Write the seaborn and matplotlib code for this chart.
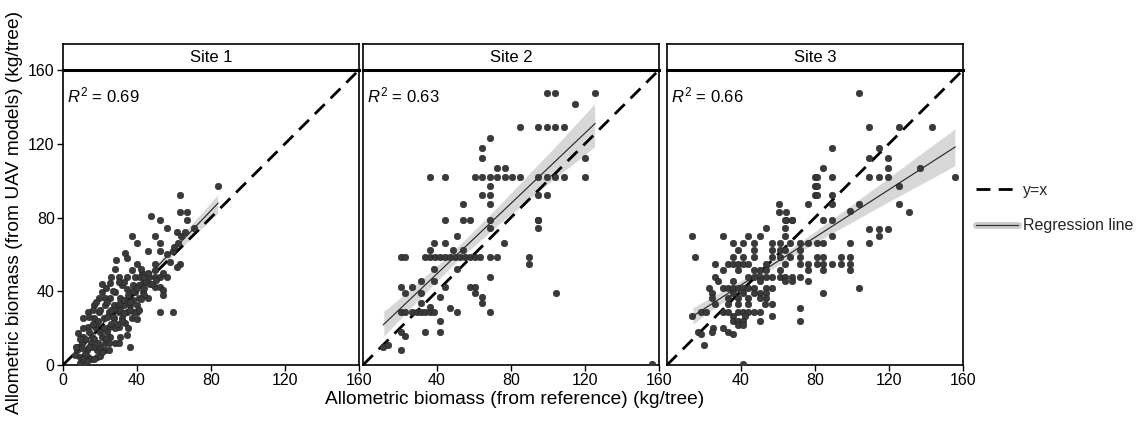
import numpy as np
import pandas as pd
import matplotlib
matplotlib.use("Agg")
import matplotlib.pyplot as plt
import seaborn as sns
from matplotlib.lines import Line2D
from matplotlib.legend_handler import HandlerTuple

sns.set_theme(style="ticks")
plt.rcParams["font.family"] = ["Liberation Sans", "DejaVu Sans"]
plt.rcParams["mathtext.fontset"] = "custom"
plt.rcParams["mathtext.rm"] = "Liberation Sans"
plt.rcParams["mathtext.it"] = "Liberation Sans:italic"

# ---------------- data ----------------
sites = ["Site 1", "Site 2", "Site 3"]
r2_labels = ["0.69", "0.63", "0.66"]
ticks_first = [0, 40, 80, 120, 160]
ticks_other = [40, 80, 120, 160]
legend_labels = ["y=x", "Regression line"]
x_title = "Allometric biomass (from reference) (kg/tree)"
y_title = "Allometric biomass (from UAV models) (kg/tree)"

site1_x = [83.9, 63.2, 63.2, 67.2, 47.7, 52.7, 67.2, 56, 70.8, 61.8, 37.3, 49.5, 40, 52.7, 46, 52.7, 59.4,
           33.3, 34.6, 28.6, 40, 49.5, 63.2, 61.8, 37.3, 49.5, 42.8, 30.1, 34.6, 39.1, 41.8, 46.4, 49.5, 52.3,
           56, 25.5, 43.1, 31.9, 37.7, 40.9, 49.5, 52.7, 54, 21, 28.3, 34.6, 38.8, 43.1, 54, 19.2, 22.8, 25.5,
           30.9, 40.9, 46, 17, 22.8, 27.3, 32.8, 36.4, 40, 52.7, 59.4, 40, 13.7, 19.2, 24.6, 30.1, 34.6, 38.2,
           11, 16.5, 21.9, 27.3, 31.9, 37.3, 40, 33.7, 8.3, 13.7, 17.4, 24.6, 30.1, 34.6, 11, 15.6, 21, 25.5,
           31, 27.9, 36.4, 22.8, 7.4, 12.9, 18.3, 22.8, 9.2, 13.7, 18.3, 9.2, 12, 6.5,
           15, 20, 26, 29, 33, 24, 18, 14, 10, 27, 35, 44, 36, 30, 12, 16, 20, 23, 28, 32, 26, 38, 45, 42,
           30, 24, 20, 16, 11, 8, 15, 20, 10, 33, 47, 41, 35, 44, 30, 25,
           12, 14, 17, 19, 22, 24, 27, 29, 31, 33, 36, 38, 40, 42, 44, 46, 48, 50, 54, 56, 58, 60, 62, 64,
           66, 16, 18, 14, 21, 23, 26, 28, 11, 13, 17, 19, 21, 9, 7, 25]
site1_y = [96.9, 92.2, 83, 83, 80.6, 78.4, 78.4, 74.1, 74.1, 71.9, 70.1, 70.1, 66.1, 66.1, 62.1, 62.1, 62.1,
           60.7, 58.3, 57.1, 54.7, 54.7, 54.7, 53.4, 51.6, 51.6, 49.8, 48, 48, 48, 48, 48, 48, 48,
           48, 44.7, 44.7, 43.5, 43.5, 43.5, 42.2, 42.2, 40.8, 39.8, 39.8, 41.1, 39.8, 39.8, 38, 36.6, 36.6, 36.6,
           36.6, 36.6, 36.6, 32.6, 32.6, 32.6, 32.6, 32.6, 32.6, 28.6, 28.6, 28.6, 28.7, 28.7, 28.7, 28.7, 28.7, 28.7,
           25.4, 25.4, 25.4, 25.4, 25.4, 25.4, 24.8, 22.7, 17.2, 20.8, 20.8, 20.8, 20.8, 16.1, 15.4, 15.4, 15.4, 15.4,
           15.4, 11.8, 10, 11.8, 8.2, 8.2, 8.2, 8.2, 4.5, 4.5, 4.5, 1.3, 1.3, 5.4,
           12, 18, 22, 30, 35, 26, 22, 18, 12, 40, 38, 42, 30, 33, 6, 10, 10, 14, 20, 24, 30, 35, 45, 52,
           45, 34, 30, 22, 20, 10, 3, 5, 9, 45, 44, 30, 20, 38, 12, 8,
           14, 10, 14, 24, 20, 18, 26, 22, 30, 28, 34, 40, 42, 36, 48, 50, 44, 46, 50, 60, 56, 64, 66, 70,
           72, 30, 34, 26, 44, 42, 48, 52, 3, 2, 3, 12, 7, 14, 10, 12]

site2_x = [68.5, 64.3, 64.3, 72.5, 76.5, 36.2, 44.4, 60.3, 64.3, 68.5, 72.5, 76.5, 80.6, 68.5, 64.3, 68.5, 54, 68.5,
           99.3, 104, 125.5, 114.7, 85, 94.4, 99.3, 104, 108.9, 120.1, 85, 94.4, 99.3, 104, 108.9, 120.1, 94.4, 99.3, 94.4,
           44.4, 54, 57.6, 68.5, 38.6, 44.4, 50.7, 36.2, 48.9, 54, 68.5, 76.1,
           20.5, 22.7, 33.5, 36.2, 38.9, 41.7, 44.4, 47.1, 49.8, 52.6, 55.3, 58, 60.7, 63.4, 68.5, 72.5,
           38.6, 50.7, 68.5, 20.5, 26.3, 31.2, 38.6, 44.4, 58, 60.7, 22.7, 31.2, 60.7, 64.3, 64.3, 41.7, 31.2,
           20.5, 22.7, 26.3, 29, 31.2, 33.5, 36.2, 38.6, 50.7, 68.5,
           36.2, 47.1, 41.7, 20.5, 22.7, 33.5, 41.7, 10.9, 13.6, 20.5,
           94.4, 94.4, 89.9, 89.9, 104.3, 156]
site2_y = [123.2, 117.6, 112.3, 107, 107, 101.8, 101.8, 101.8, 101.8, 101.8, 101.8, 101.8, 101.8, 96.9, 92.2, 92.2, 87.3, 87.3,
           147.3, 147.3, 147.3, 141.5, 129.2, 129.2, 129.2, 129.2, 129.2, 112.3, 101.8, 101.8, 101.8, 101.8, 101.8, 101.8, 92.2, 92.2, 78.8,
           78.4, 78.4, 78.4, 78.4, 66.1, 66.1, 70.1, 62.5, 62.5, 62.5, 74.3, 66.1,
           58.5, 58.5, 58.5, 58.5, 58.5, 58.5, 58.5, 58.5, 58.5, 58.5, 58.5, 58.5, 58.5, 58.5, 58.5, 58.5,
           52, 52, 48, 42.5, 42.5, 45.3, 45.3, 42.5, 42.5, 42.5, 39, 39, 39, 37.1, 33.5, 37.1, 33.5,
           29, 29, 29, 29, 29, 29, 29, 29, 29, 29,
           31.2, 31.1, 23.9, 18.1, 15.9, 18.1, 18.1, 10, 10.9, 8.2,
           78.4, 74.3, 58.5, 54.7, 39, 0.5]

site3_x = [80.2, 80.2, 80.2, 76.1, 60.7, 60.7, 64.1, 64.1, 67.7,
           103.7, 109.1, 125.5, 143.3, 89.1, 114.6, 109.1, 119.7, 84.5, 119.7, 80.9, 89.1, 109.1, 114.6, 119.7, 155.9,
           80.9, 80.9, 89.1, 137, 125.5, 103.7, 98.7, 89.1, 125.5, 131, 84.5, 89.1,
           63.8, 67.8, 63.8, 53.4,
           13.7, 30.1, 43.7, 50.1, 63.8,
           35.5, 41, 47, 56.5, 61, 66.5, 72, 76.1,
           38.3, 47, 56.5, 61, 63.8, 72,
           14.9, 35.5, 41, 47, 56.5, 61, 66.5, 72,
           26.1, 32.8, 35.5, 38.3, 41, 43.7, 53.7, 63.8, 72, 76.1,
           30.1, 38.3, 47, 50.1, 53.7, 61, 76.1,
           26.1, 43.7, 47, 50.1, 53.7, 56.5, 61, 63.8, 67.8, 72,
           27.3, 35.5, 50.1, 63.8, 67.8, 76.1,
           22.8, 30.1, 32.8, 35.5, 38.3, 41, 43.7, 47, 53.7, 56.5,
           24.2, 35.5, 41, 47, 50.1, 53.7,
           24.2, 32.8, 38.3, 43.7, 50.1, 53.7,
           26.1, 32.8, 38.3, 43.7, 52.8, 56.5, 72,
           18.5, 21.2, 30.1, 32.8, 38.3, 41, 43.7, 47, 50.1,
           13.7, 35.5, 41.9, 56.5,
           35.5, 38.3, 41, 50.1, 72,
           38.3, 41, 25.1, 30.1, 16.8, 24.2, 32.8, 18.5, 35.5, 20.1, 41,
           109.1, 114.6, 119.7, 89.1, 114.6, 80.9, 84.5, 98.7, 109.1,
           80.9, 84.5, 94, 98.7, 80.9, 84.5, 89.1, 94, 98.7, 84.5, 98.7, 103.7, 84.5]
site3_y = [102, 96.9, 92.2, 87.3, 87.3, 83, 83, 78.8, 78.8,
           147.3, 129.2, 129.2, 129.2, 117.8, 117.8, 112.3, 112.3, 107.1, 107.1, 101.8, 101.8, 101.8, 101.8, 101.8, 101.8,
           96.9, 92.2, 92.2, 107.1, 96.9, 87.3, 83.3, 87.3, 87.3, 83, 78.8, 78.8,
           78.4, 78.4, 74.3, 74.3,
           70.1, 70.1, 70.1, 70.1, 70.1,
           66.1, 66.1, 66.1, 66.1, 66.1, 66.1, 66.1, 66.1,
           62.5, 62.5, 62.5, 62.5, 62.5, 62.5,
           58.5, 58.5, 58.5, 58.5, 58.5, 58.5, 58.5, 58.5,
           54.9, 54.9, 54.9, 54.9, 54.9, 54.9, 54.9, 54.9, 54.9, 54.9,
           51.6, 51.6, 51.6, 51.6, 51.6, 51.6, 51.6,
           48, 48, 48, 48, 48, 48, 48, 48, 48, 48,
           45.3, 45.3, 45.3, 45.3, 45.3, 45.3,
           42, 42, 42, 42, 42, 42, 42, 42, 42, 42,
           39, 39, 39, 39, 39, 39,
           36.2, 36.2, 36.2, 36.2, 36.2, 36.2,
           33, 33, 33, 33, 33, 33, 31.1,
           29, 29, 29, 29, 29, 29, 29, 29, 29,
           26.6, 26.6, 26.6, 26.6,
           23.9, 23.9, 23.9, 23.9, 23.9,
           21.7, 21.7, 19.9, 19.9, 18.1, 18.1, 18.1, 16.7, 16.7, 10.9, 0.5,
           73.9, 73.9, 73.9, 70.1, 70.1, 66.1, 66.1, 66.1, 66.1,
           58.5, 58.5, 58.5, 58.5, 54.9, 54.9, 54.9, 54.9, 54.9, 51.6, 51.6, 42, 39]

df = pd.concat([
    pd.DataFrame({"site": s, "x": xs, "y": ys})
    for s, xs, ys in zip(sites, [site1_x, site2_x, site3_x], [site1_y, site2_y, site3_y])
], ignore_index=True)

# ---------------- figure ----------------
W, H = 1138, 425
fig = plt.figure(figsize=(W / 100, H / 100), dpi=100)
lefts = [63, 363, 667]
pw = 296
ptop, pbot = 70, 365
strip_h = 26

for i, (site, r2) in enumerate(zip(sites, r2_labels)):
    l = lefts[i]
    ax = fig.add_axes([l / W, (H - pbot) / H, pw / W, (pbot - ptop) / H])
    sub = df[df["site"] == site]
    fit = sub[sub["y"] > 1]  # near-zero UAV estimates treated as missing in the fit
    ax.axline((0, 0), slope=1, color="black", lw=2.0, ls=(0, (5, 3)), zorder=2)
    sns.regplot(data=fit, x="x", y="y", ax=ax, scatter=False, color="black", ci=95,
                n_boot=1000, seed=1, line_kws=dict(lw=0.8, color="#222222"))
    for coll in ax.collections:
        coll.set_facecolor("#d0d0d0")
        coll.set_alpha(0.85)
        coll.set_zorder(1)
    sns.scatterplot(data=sub, x="x", y="y", ax=ax, color="#3a3a3a", s=22,
                    edgecolor="#222222", linewidth=0.4, zorder=3, legend=False)
    ax.set_xlim(0, 160)
    ax.set_ylim(0, 160)
    ax.set_xticks(ticks_first if i == 0 else ticks_other)
    ax.set_yticks(ticks_first)
    ax.set_xlabel("")
    ax.set_ylabel("")
    for sp in ax.spines.values():
        sp.set_visible(True)
        sp.set_color("black")
        sp.set_linewidth(1.2)
    ax.tick_params(axis="x", direction="out", length=4, width=1, color="black",
                   labelsize=11.5, labelcolor="black", pad=2, bottom=True)
    if i == 0:
        ax.tick_params(axis="y", direction="out", length=4, width=1, color="black",
                       labelsize=11.5, labelcolor="black", pad=2, left=True)
    else:
        ax.tick_params(axis="y", left=False, labelleft=False)
    ax.text(2, 146, r"$R^2$" + " = " + r2, fontsize=12, ha="left", va="center", color="black")

    # strip
    sax = fig.add_axes([l / W, (H - ptop) / H, pw / W, strip_h / H])
    sax.set_xticks([])
    sax.set_yticks([])
    sax.set_facecolor("white")
    for sp in sax.spines.values():
        sp.set_visible(True)
        sp.set_color("black")
        sp.set_linewidth(1.2)
    sax.spines["bottom"].set_linewidth(2.2)
    sax.text(0.5, 0.5, site, ha="center", va="center", fontsize=12, color="black",
             transform=sax.transAxes)

fig.text(515 / W, 1 - 399 / H, x_title, ha="center", va="center", fontsize=13.8, color="black")
fig.text(15 / W, 1 - 212 / H, y_title, ha="center", va="center", rotation=90,
         fontsize=13.8, color="black")

h_dash = Line2D([], [], color="black", lw=2.0, ls=(0, (5, 3)))
h_band = Line2D([], [], color="#cccccc", lw=5)
h_line = Line2D([], [], color="#333333", lw=0.9)
fig.legend(handles=[h_dash, (h_band, h_line)], labels=legend_labels,
           handler_map={tuple: HandlerTuple(ndivide=1)},
           loc="center left", bbox_to_anchor=(962 / W, 1 - 208 / H), frameon=False,
           fontsize=11.5, handlelength=2.6, handletextpad=0.3, labelspacing=1.3)

fig.savefig("out.png", dpi=100)
